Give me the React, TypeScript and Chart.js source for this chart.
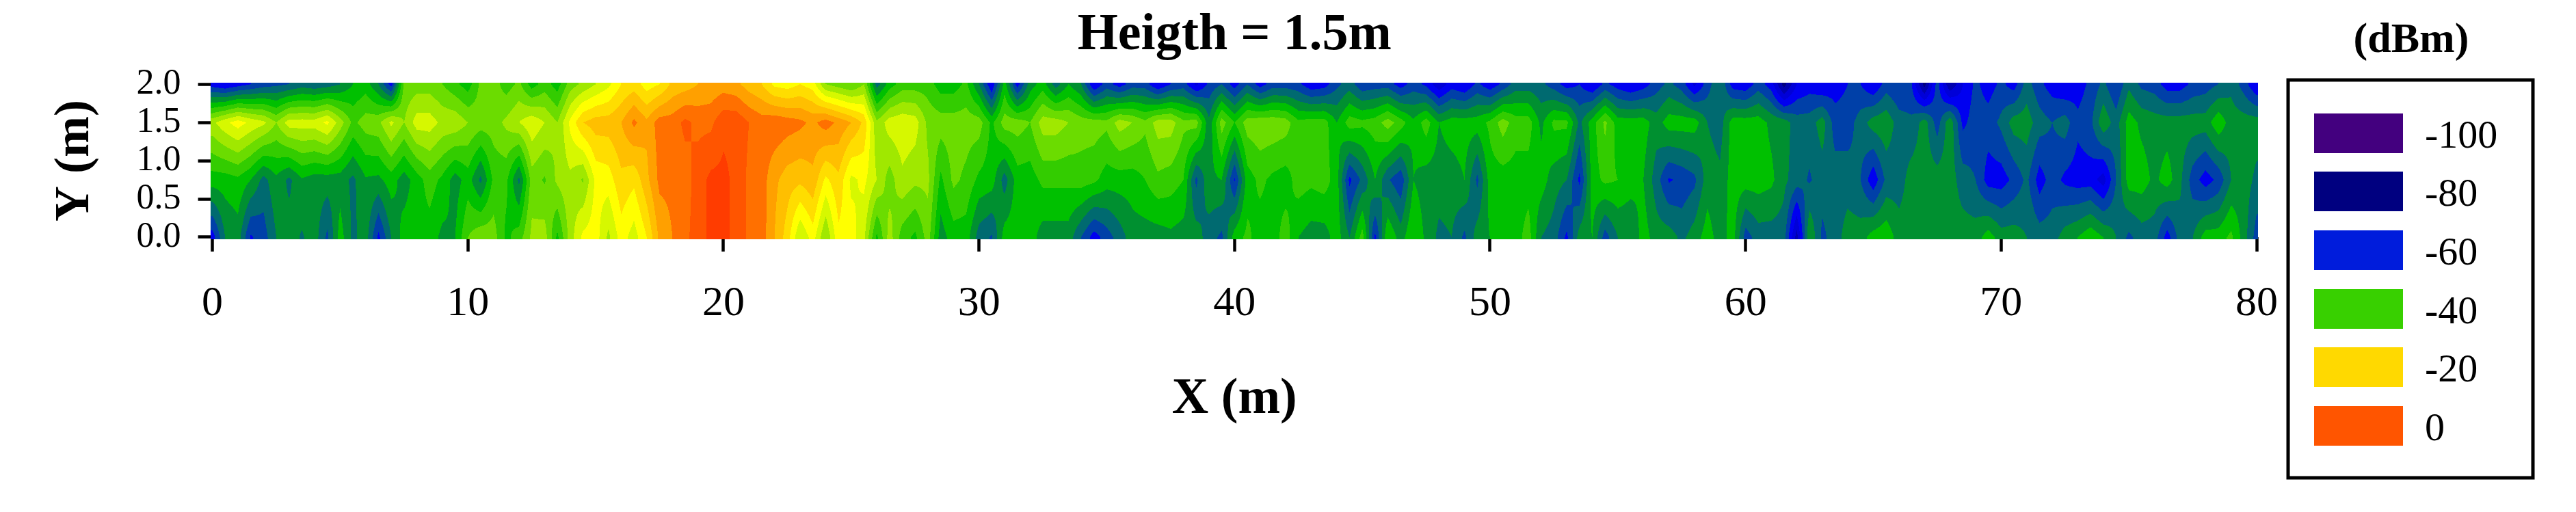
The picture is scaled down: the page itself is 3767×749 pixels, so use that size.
import { useEffect, useRef } from "react";
import Chart from "chart.js/auto";

const WIDTH = 3767;
const HEIGHT = 749;
const SERIF = "'Liberation Serif', serif";

// signal strength in dBm at x = 0, 0.5, 1 ... 80 m, one list per measured height
const rowY0 = [
  -60, -50, -48, -58.5, -56, -50, -48, -50.5, -48, -55, -44, -51, -48, -59, -50, -44, -44, -44, -47, -46, -38, -35, -36, -43, -40, -33, -32, -43, -32, -25, -24, -31, -24, -28, -22, -13, -10, -7, -4, -1,
  -1, -3, -7, -8, -14, -20, -30, -24, -34, -23, -24, -29, -43, -32, -40, -43, -36, -48, -44, -44, -52, -54.5, -44, -44, -44, -48, -48, -48, -54, -60, -56, -52, -48, -48, -48, -47, -48, -48, -52, -55,
  -44, -41, -44, -44, -40, -46, -48, -48, -44, -50, -40, -59, -42, -48, -42, -47, -51, -50, -55, -48, -46, -44, -44, -40, -50, -52, -59, -48, -46, -56, -50, -50, -44, -48, -48, -51, -48, -44, -48, -44,
  -56, -52, -52, -52, -68, -46, -55, -52, -48, -48, -44, -43, -48, -48, -48, -48, -48, -48, -48, -44, -48, -48, -50, -52, -52, -48, -46, -43, -46, -50, -55, -52, -52, -60, -52, -50, -44, -44, -41, -48,
  -56,
];
const rowY075 = [
  -44, -44, -43, -46, -51.5, -47, -51, -46.5, -48, -48, -48, -51, -46.5, -47, -44, -48, -44, -40, -43, -48, -44, -51, -41, -41, -51, -36, -38.5, -33, -31, -34.5, -25, -24, -19, -21, -15, -9, -9, -8, -4, -1,
  -1, -3, -7, -8, -13, -16, -17, -15, -23, -19, -27, -25, -30, -36, -31, -33, -33, -43, -37, -39, -43, -44, -52, -44, -44, -41, -41, -41, -40, -41, -44, -44, -44, -42, -39, -40, -42, -55, -47, -46,
  -58.5, -44, -41, -43, -44, -40, -41, -40, -44, -59, -53, -46, -53.5, -57, -46, -48, -48, -48, -46, -55, -44, -44, -44, -44, -44, -48, -50, -59, -44, -41, -42, -44, -46, -52, -58.5, -57, -55, -48, -49, -44,
  -44, -44, -45, -49, -52, -54.5, -52, -52, -52, -54, -61, -53, -52, -48, -48, -48, -48, -52, -54, -60, -60, -57, -53, -60, -56, -59, -60, -60, -64, -54, -44, -44, -47, -44, -49, -56, -60, -57, -50, -48,
  -51,
];
const rowY15 = [
  -31, -27, -24, -27, -29, -34, -28, -28, -28, -25, -32, -39, -36, -35, -29, -34, -28, -28, -31, -31, -34, -36, -36, -33, -30, -27, -30, -34, -25, -18, -16, -16, -14, -9, -13, -8, -8, -5, -7, -7,
  -3, -3, -6, -8, -7, -8, -9, -11, -8, -11, -14, -19, -33, -28, -27, -28, -35, -36, -36, -36, -36, -43, -36, -36, -38, -32, -32, -34, -36, -36, -37, -32, -34, -37, -32, -32, -37, -36, -49, -36,
  -42, -36, -35, -35, -36, -41, -40, -40, -46, -40, -41, -40, -36, -40, -45, -40, -46, -44, -44, -44, -41, -36, -40, -40, -47, -41, -41, -51, -44, -37, -44, -44, -44, -48, -44, -44, -44, -50, -52, -44,
  -44, -44, -47, -48, -52, -52, -48, -56, -56, -52, -48, -47, -52, -53, -48, -56, -47, -59, -56, -56, -53, -48, -48, -52, -54, -52, -57, -55, -47, -52, -44, -47, -48, -48, -48, -48, -48, -43, -48, -48,
  -48,
];
const rowY20 = [
  -60, -62, -60, -58, -56, -55, -54, -52, -53, -52, -50, -46, -44, -50, -60, -37, -36, -36, -38, -41, -44, -37, -36, -40, -37, -44, -40, -44, -36, -33, -30, -27, -22, -20, -24, -22, -17, -16, -14, -13,
  -12, -13, -16, -18, -23, -24, -22, -24, -34, -36, -38, -34, -52, -44, -40, -40, -40, -44, -44, -41, -50, -62, -44, -60, -48, -44, -52, -46, -50, -62, -56, -60, -56, -56, -62, -58, -56, -63, -57, -54,
  -60, -54, -60, -56, -56, -57, -61, -60, -55, -52, -57, -56, -56, -60, -56, -59, -65, -60, -62, -57, -61, -57, -52, -52, -53, -56, -60, -58, -62, -57, -60, -62, -60, -56, -53, -56, -63, -56, -50, -60,
  -61, -56, -60, -72, -62, -60, -62, -60, -58, -58, -62, -56, -58, -58, -72, -56, -70, -62, -57, -60, -57, -60, -52, -57, -60, -62, -60, -57, -53, -58, -51, -55, -56, -60, -60, -57, -56, -54, -51, -56,
  -62,
];
const rowHeights = [0, 0.75, 1.5, 2];
const rows = [rowY0, rowY075, rowY15, rowY20];
const xStep = 0.5;

// contour bands, 4 dB wide, lowest first
const bandStart = -72;
const bandSize = 4;
const bandColors = [
  "#000080", "#0000B0", "#0000D8", "#0000F0", "#0040A8", "#006A70", "#009030", "#00C000", "#33CC00", "#6BDC00",
  "#A0E800", "#D6F800", "#FFFF00", "#FFDD00", "#FFBF00", "#FFA000", "#FF7000", "#FF5500", "#FF3C00",
];

const legendLabels = ["-100", "-80", "-60", "-40", "-20", "0"];
const legendColors = ["#43007F", "#000080", "#001CDC", "#38D000", "#FFD900", "#FF5500"];
const legendSwatchTops = [166, 251, 337, 423, 508, 594];

const hexToRgb = (hex: string) => [
  parseInt(hex.slice(1, 3), 16),
  parseInt(hex.slice(3, 5), 16),
  parseInt(hex.slice(5, 7), 16),
];

const valueAt = (x: number, y: number) => {
  const cx = Math.min(Math.max(x / xStep, 0), rowY0.length - 1);
  const cy = Math.min(Math.max(y, 0), 2);
  const i = Math.min(Math.floor(cx), rowY0.length - 2);
  let r = 0;
  while (r < rowHeights.length - 2 && cy > rowHeights[r + 1]) r++;
  const tx = cx - i;
  const ty = (cy - rowHeights[r]) / (rowHeights[r + 1] - rowHeights[r]);
  const low = rows[r][i] * (1 - tx) + rows[r][i + 1] * tx;
  const high = rows[r + 1][i] * (1 - tx) + rows[r + 1][i + 1] * tx;
  return low * (1 - ty) + high * ty;
};

// fills the filled-contour field pixel by pixel from the chart's own scales
const contourPlugin = {
  id: "contour",
  beforeDatasetsDraw(chart: any) {
    const { ctx, scales } = chart;
    const left = 308;
    const right = 3302;
    const top = 121;
    const bottom = 350;
    const w = right - left;
    const h = bottom - top;
    const off = document.createElement("canvas");
    off.width = w;
    off.height = h;
    const offCtx = off.getContext("2d");
    if (!offCtx) return;
    const img = offCtx.createImageData(w, h);
    const rgb = bandColors.map(hexToRgb);
    for (let py = 0; py < h; py++) {
      const yVal = scales.y.getValueForPixel(top + py + 0.5);
      for (let px = 0; px < w; px++) {
        const xVal = scales.x.getValueForPixel(left + px + 0.5);
        const v = valueAt(xVal, yVal);
        const band = Math.round((v - bandStart) / bandSize);
        const c = rgb[Math.min(Math.max(band, 0), rgb.length - 1)];
        const o = (py * w + px) * 4;
        img.data[o] = c[0];
        img.data[o + 1] = c[1];
        img.data[o + 2] = c[2];
        img.data[o + 3] = 255;
      }
    }
    offCtx.putImageData(img, 0, 0);
    ctx.drawImage(off, left, top);
  },
};

const legendBoxPlugin = {
  id: "legendBox",
  afterDraw(chart: any) {
    const { ctx } = chart;
    ctx.save();
    ctx.fillStyle = "#000";
    ctx.textBaseline = "alphabetic";
    ctx.textAlign = "center";
    ctx.font = `bold 62px ${SERIF}`;
    ctx.fillText("(dBm)", 3526, 76);
    ctx.strokeStyle = "#000";
    ctx.lineWidth = 5;
    ctx.strokeRect(3346, 117, 358, 582);
    ctx.textAlign = "left";
    ctx.font = `58px ${SERIF}`;
    legendLabels.forEach((label, i) => {
      ctx.fillStyle = legendColors[i];
      ctx.fillRect(3384, legendSwatchTops[i], 130, 58);
      ctx.fillStyle = "#000";
      ctx.fillText(label, 3546, legendSwatchTops[i] + 50);
    });
    ctx.restore();
  },
};

export default function App() {
  const chartRef = useRef<HTMLCanvasElement>(null);

  useEffect(() => {
    if (!chartRef.current) return;
    const chart = new Chart(chartRef.current, {
      type: "scatter",
      data: {
        datasets: rows.map((row, r) => ({
          label: `Y = ${rowHeights[r]}`,
          data: row.map((v, i) => ({ x: i * xStep, y: rowHeights[r], v })),
          pointRadius: 0,
          showLine: false,
        })),
      },
      options: {
        animation: false,
        responsive: false,
        devicePixelRatio: 1,
        layout: { padding: { top: 7, right: 467, left: 0, bottom: 0 } },
        plugins: {
          legend: { display: false },
          tooltip: { enabled: false },
          title: {
            display: true,
            text: "Heigth = 1.5m",
            color: "#000",
            fullSize: false,
            font: { family: SERIF, size: 76, weight: "bold", lineHeight: 1.2 },
            padding: { top: 0, bottom: 25 },
          },
        },
        scales: {
          x: {
            type: "linear",
            min: 0,
            max: 80,
            afterFit: (scale: any) => {
              scale.height = HEIGHT - 347;
            },
            ticks: {
              stepSize: 10,
              maxRotation: 0,
              color: "#000",
              padding: 40,
              font: { family: SERIF, size: 62 },
            },
            border: { display: false },
            grid: { drawOnChartArea: false, tickLength: 21, tickWidth: 4.5, tickColor: "#000" },
            title: {
              display: true,
              text: "X (m)",
              color: "#000",
              font: { family: SERIF, size: 74, weight: "bold", lineHeight: 1.2 },
              padding: { top: 0, bottom: 120 },
            },
          },
          y: {
            type: "linear",
            min: 0,
            max: 2,
            afterFit: (scale: any) => {
              scale.width = 310.6;
            },
            ticks: {
              stepSize: 0.5,
              autoSkip: false,
              color: "#000",
              padding: 25,
              font: { family: SERIF, size: 52 },
              callback: (v: any) => Number(v).toFixed(1),
            },
            border: { display: false },
            grid: { drawOnChartArea: false, tickLength: 21, tickWidth: 4.5, tickColor: "#000" },
            title: {
              display: true,
              text: "Y (m)",
              color: "#000",
              font: { family: SERIF, size: 72, weight: "bold", lineHeight: 1.2 },
              padding: { top: 67, bottom: 0 },
            },
          },
        },
      },
      plugins: [contourPlugin, legendBoxPlugin],
    } as any);
    return () => {
      chart.destroy();
    };
  }, []);

  return (
    <div style={{ position: "absolute", left: 0, top: 0, width: WIDTH, height: HEIGHT, background: "#fff" }}>
      <canvas ref={chartRef} width={WIDTH} height={HEIGHT} style={{ display: "block" }}></canvas>
    </div>
  );
}
